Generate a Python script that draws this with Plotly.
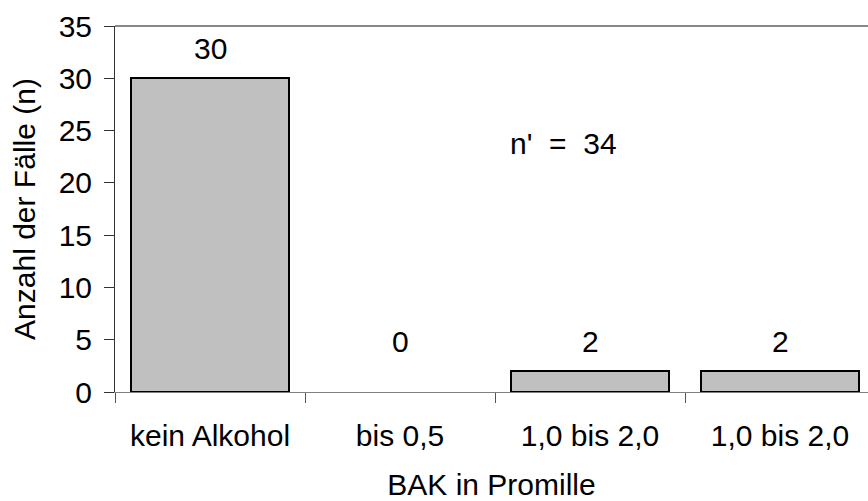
import plotly.graph_objects as go

categories = ["kein Alkohol", "bis 0,5", "1,0 bis 2,0", "1,0 bis 2,0"]
counts = [30, 0, 2, 2]
y_ticks = [0, 5, 10, 15, 20, 25, 30, 35]
total_label = "n'  =  34"

positions = list(range(len(categories)))
font = "Liberation Sans, Arial, sans-serif"
fs = 30

fig = go.Figure()
fig.add_trace(go.Bar(
    x=positions,
    y=counts,
    width=0.83,
    marker=dict(color="#C0C0C0",
                line=dict(color="black", width=[2 if v > 0 else 0 for v in counts])),
    showlegend=False,
))

# value labels above each bar
for p, v in zip(positions, counts):
    fig.add_annotation(
        x=p, y=max(v, 2), text=str(v), showarrow=False,
        yanchor="middle", yshift=30,
        font=dict(family=font, size=fs, color="black"),
    )

fig.add_annotation(
    x=1.858, y=23.8, text=total_label, showarrow=False,
    font=dict(family=font, size=fs, color="black"),
)

# top frame line
fig.add_shape(type="line", xref="paper", yref="paper", x0=0, x1=1, y0=1, y1=1,
              line=dict(color="#888888", width=2))

fig.update_layout(
    width=868, height=501,
    margin=dict(l=115, r=0, t=26, b=109),
    plot_bgcolor="white", paper_bgcolor="white",
    bargap=0,
    font=dict(family=font, size=fs, color="black"),
    xaxis=dict(
        range=[-0.5, 3.463],
        tickmode="array", tickvals=positions, ticktext=categories,
        ticks="", showgrid=False, zeroline=False,
        showline=True, linecolor="#808080", linewidth=1,
        ticklabelstandoff=17,
        minor=dict(tickmode="array", tickvals=[-0.5, 0.5, 1.5, 2.5, 3.5],
                   ticks="outside", ticklen=10, tickcolor="#555555", showgrid=False),
        title=dict(text="BAK in Promille", standoff=22,
                   font=dict(family=font, size=fs)),
        tickfont=dict(family=font, size=fs),
    ),
    yaxis=dict(
        range=[0, 35],
        tickmode="array", tickvals=y_ticks,
        ticks="outside", ticklen=10, tickcolor="#333333",
        showgrid=False, zeroline=False,
        showline=True, linecolor="#333333", linewidth=1,
        ticklabelstandoff=6,
        title=dict(text="Anzahl der Fälle (n)", standoff=14,
                   font=dict(family=font, size=fs)),
        tickfont=dict(family=font, size=fs),
    ),
)

fig.write_html("out.html")
